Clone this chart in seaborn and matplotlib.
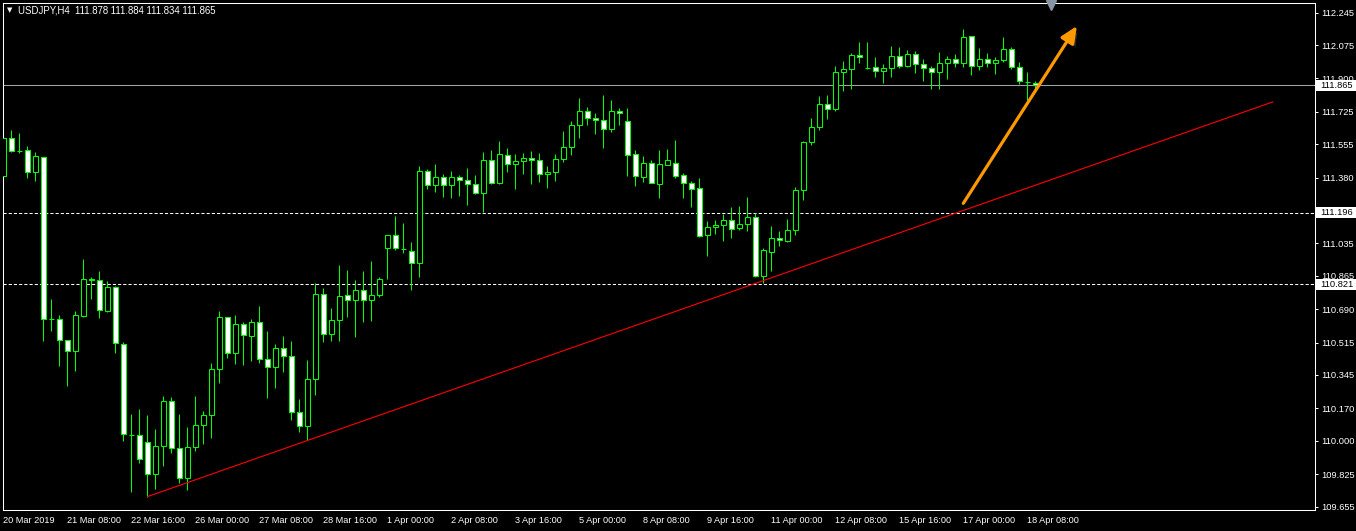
import matplotlib
matplotlib.use("Agg")
import matplotlib.pyplot as plt
import matplotlib.patheffects as pe
from matplotlib.patches import Rectangle
import pandas as pd
import seaborn as sns

# USDJPY H4, 20 Mar 2019 - 18 Apr 2019
opens = [111.390, 111.586, 111.521, 111.523, 111.408, 111.487, 110.637, 110.637, 110.527, 110.469,
         110.656, 110.847, 110.842, 110.682, 110.805, 110.506, 110.031, 110.029, 109.992, 109.824,
         109.971, 110.209, 109.961, 109.803, 109.966, 110.081, 110.134, 110.375, 110.648, 110.459,
         110.611, 110.551, 110.621, 110.427, 110.386, 110.485, 110.443, 110.150, 110.076, 110.323,
         110.768, 110.559, 110.632, 110.763, 110.737, 110.789, 110.737, 110.763, 111.010, 111.078,
         111.007, 110.997, 110.931, 111.413, 111.340, 111.382, 111.340, 111.382, 111.366, 111.345,
         111.301, 111.471, 111.354, 111.497, 111.450, 111.466, 111.482, 111.471, 111.398, 111.408,
         111.476, 111.539, 111.655, 111.728, 111.691, 111.681, 111.634, 111.728, 111.676, 111.502,
         111.385, 111.455, 111.348, 111.448, 111.455, 111.392, 111.350, 111.324, 111.078, 111.120,
         111.130, 111.156, 111.118, 111.135, 111.172, 110.866, 110.992, 111.062, 111.049, 111.104,
         111.314, 111.565, 111.644, 111.765, 111.738, 111.932, 111.948, 112.022, 111.957, 111.959,
         111.938, 111.953, 112.016, 111.964, 112.027, 111.974, 111.953, 111.932, 111.980, 112.001,
         111.980, 112.123, 111.964, 112.001, 111.980, 111.995, 112.055, 111.959, 111.883, 111.878]
highs = [111.688, 111.630, 111.614, 111.546, 111.515, 111.488, 110.744, 110.660, 110.527, 110.681,
         110.953, 110.859, 110.891, 110.838, 110.812, 110.518, 110.141, 110.167, 110.135, 110.062,
         110.235, 110.230, 110.141, 110.072, 110.235, 110.156, 110.408, 110.681, 110.649, 110.660,
         110.623, 110.639, 110.707, 110.576, 110.508, 110.550, 110.523, 110.219, 110.424, 110.826,
         110.800, 110.696, 110.922, 110.896, 110.843, 110.891, 110.943, 110.859, 111.078, 111.179,
         111.142, 111.043, 111.441, 111.425, 111.452, 111.399, 111.415, 111.394, 111.431, 111.394,
         111.515, 111.525, 111.572, 111.536, 111.504, 111.509, 111.520, 111.509, 111.441, 111.504,
         111.625, 111.677, 111.798, 111.751, 111.719, 111.813, 111.787, 111.745, 111.745, 111.525,
         111.494, 111.473, 111.525, 111.530, 111.577, 111.403, 111.361, 111.377, 111.153, 111.158,
         111.189, 111.226, 111.231, 111.279, 111.193, 111.010, 111.126, 111.100, 111.163, 111.331,
         111.571, 111.693, 111.808, 111.813, 111.966, 111.992, 112.034, 112.091, 112.091, 112.013,
         111.976, 112.070, 112.065, 112.049, 112.044, 112.002, 111.966, 112.039, 112.018, 112.028,
         112.160, 112.123, 112.060, 112.034, 112.013, 112.118, 112.065, 111.987, 111.934, 111.884]
lows = [111.348, 111.516, 111.511, 111.380, 111.364, 110.525, 110.577, 110.394, 110.289, 110.368,
        110.651, 110.744, 110.646, 110.677, 110.462, 110.001, 109.733, 109.885, 109.707, 109.749,
        109.870, 109.938, 109.780, 109.744, 109.948, 109.985, 110.016, 110.305, 110.436, 110.404,
        110.399, 110.420, 110.407, 110.226, 110.279, 110.362, 110.111, 110.048, 110.006, 110.242,
        110.520, 110.525, 110.525, 110.651, 110.546, 110.625, 110.630, 110.756, 110.850, 111.002,
        110.986, 110.792, 110.861, 111.322, 111.306, 111.280, 111.275, 111.285, 111.238, 111.296,
        111.198, 111.348, 111.347, 111.410, 111.322, 111.401, 111.348, 111.359, 111.327, 111.364,
        111.464, 111.500, 111.590, 111.658, 111.611, 111.537, 111.621, 111.658, 111.390, 111.338,
        111.359, 111.354, 111.275, 111.448, 111.380, 111.275, 111.228, 111.070, 110.971, 111.086,
        111.049, 111.065, 111.107, 111.102, 110.860, 110.829, 110.892, 111.023, 111.044, 111.081,
        111.264, 111.550, 111.630, 111.688, 111.731, 111.836, 111.846, 111.983, 111.948, 111.909,
        111.878, 111.909, 111.957, 111.962, 111.927, 111.885, 111.843, 111.843, 111.896, 111.959,
        111.959, 111.917, 111.943, 111.959, 111.922, 111.985, 111.948, 111.870, 111.787, 111.834]
closes = [111.586, 111.521, 111.521, 111.408, 111.492, 110.637, 110.637, 110.527, 110.469, 110.658,
          110.847, 110.842, 110.684, 110.805, 110.511, 110.034, 110.031, 109.903, 109.824, 109.971,
          110.209, 109.961, 109.803, 109.966, 110.081, 110.134, 110.375, 110.648, 110.459, 110.611,
          110.553, 110.621, 110.427, 110.386, 110.485, 110.443, 110.150, 110.076, 110.323, 110.768,
          110.559, 110.632, 110.758, 110.737, 110.789, 110.737, 110.763, 110.847, 111.078, 111.010,
          111.007, 110.931, 111.413, 111.340, 111.382, 111.340, 111.382, 111.366, 111.345, 111.301,
          111.471, 111.354, 111.504, 111.450, 111.466, 111.482, 111.471, 111.398, 111.408, 111.476,
          111.539, 111.655, 111.728, 111.691, 111.681, 111.634, 111.728, 111.718, 111.497, 111.387,
          111.455, 111.354, 111.450, 111.471, 111.390, 111.350, 111.322, 111.076, 111.120, 111.130,
          111.156, 111.112, 111.135, 111.172, 110.866, 110.999, 111.062, 111.052, 111.104, 111.314,
          111.565, 111.644, 111.765, 111.738, 111.932, 111.948, 112.022, 112.011, 111.957, 111.938,
          111.953, 112.016, 111.964, 112.027, 111.974, 111.953, 111.932, 111.980, 112.001, 111.980,
          112.118, 111.964, 112.001, 111.980, 111.995, 112.055, 111.959, 111.885, 111.883, 111.865]

date_labels = ["20 Mar 2019", "21 Mar 08:00", "22 Mar 16:00", "26 Mar 00:00", "27 Mar 08:00",
               "28 Mar 16:00", "1 Apr 00:00", "2 Apr 08:00", "3 Apr 16:00", "5 Apr 00:00",
               "8 Apr 08:00", "9 Apr 16:00", "11 Apr 00:00", "12 Apr 08:00", "15 Apr 16:00",
               "17 Apr 00:00", "18 Apr 08:00"]
price_ticks = [112.245, 112.075, 111.900, 111.725, 111.555, 111.380, 111.210, 111.035,
               110.865, 110.690, 110.515, 110.345, 110.170, 110.000, 109.825, 109.655]

bid = 111.865
levels = [111.196, 110.821]
trend_x = [18, 158.7]
trend_y = [109.707, 111.777]
arrow_from = (120, 111.245)
arrow_to = (134.2, 112.175)

df = pd.DataFrame({"open": opens, "high": highs, "low": lows, "close": closes})
df["bar"] = range(len(df))
df["body"] = df["close"] - df["open"]

sns.set_theme(style="dark", rc={"axes.facecolor": "black", "figure.facecolor": "black",
                                "axes.edgecolor": "white", "xtick.color": "white",
                                "ytick.color": "white", "text.color": "white"})
plt.rcParams["font.family"] = ["Liberation Sans", "DejaVu Sans"]

W, H = 1356, 531
fig = plt.figure(figsize=(W / 100, H / 100), dpi=100)
ax = fig.add_axes([3 / W, (H - 510) / H, (1315 - 3) / W, (510 - 2.7) / H])

green = "#00ff00"
ax.vlines(df["bar"], df["low"], df["high"], color=green, lw=0.75, zorder=2)
fills = ["black" if b > 0 else "white" for b in df["body"]]
ax.bar(df["bar"], df["body"], bottom=df["open"], width=0.6, color=fills,
       edgecolor=green, linewidth=0.75, zorder=3)

ax.axhline(bid, color="#a0a4aa", lw=0.75, zorder=1)
for lv in levels:
    ax.axhline(lv, color="white", lw=0.75, ls=(0, (3, 2)), zorder=1)

sns.lineplot(x=trend_x, y=trend_y, color="red", lw=0.8, ax=ax, zorder=4)

ax.annotate("", xy=arrow_to, xytext=arrow_from,
            arrowprops=dict(arrowstyle="-|>,head_length=1.0,head_width=0.45", color="#ff9900",
                            lw=2.3, mutation_scale=10, shrinkA=0, shrinkB=0,
                            path_effects=[pe.withSimplePatchShadow(offset=(2, -2),
                                                                   shadow_rgbFace="#3a3a3a",
                                                                   alpha=0.7)]),
            zorder=5)

# chart-shift marker
ax.plot([131], [0.9945], marker="v", ms=7, color="#8896a4", transform=ax.get_xaxis_transform(),
        clip_on=False, zorder=6)

ax.set_xlim(-0.04, 163.96)
ax.set_ylim(109.637, 112.297)

ax.yaxis.tick_right()
ax.set_yticks(price_ticks)
ax.set_yticklabels([f"{p:.3f}" for p in price_ticks])
ax.set_xticks(list(range(0, len(df), 8)))
ax.set_xticklabels(date_labels, ha="left")
ax.tick_params(axis="y", length=2.5, width=0.75, pad=2, labelsize=6.7, colors="white")
ax.tick_params(axis="x", length=3, width=0.75, pad=1.5, labelsize=6.6, colors="white")
ax.set_xlabel("")
ax.set_ylabel("")
ax.grid(False)
for s in ax.spines.values():
    s.set_color("white")
    s.set_linewidth(0.75)

# price boxes on the right scale
box_h = 0.058
for p in [bid] + levels:
    ax.add_patch(Rectangle((1.0008, p - box_h / 2), 0.032, box_h, transform=ax.get_yaxis_transform(),
                           facecolor="white", edgecolor="none", clip_on=False, zorder=9))
    ax.annotate(f"{p:.3f}", xy=(1, p), xycoords=ax.get_yaxis_transform(),
                xytext=(3.6, 0), textcoords="offset points", va="center", ha="left",
                fontsize=6.7, color="black", zorder=10, annotation_clip=False)

fig.text(7 / W, 1 - 10.5 / H, "\u25bc", fontsize=5, color="white", va="center",
         family=["DejaVu Sans"])
fig.text(18 / W, 1 - 10.5 / H, "USDJPY,H4  111.878 111.884 111.834 111.865",
         fontsize=6.9, color="white", va="center")

fig.savefig("out.png", dpi=100, facecolor="black")
